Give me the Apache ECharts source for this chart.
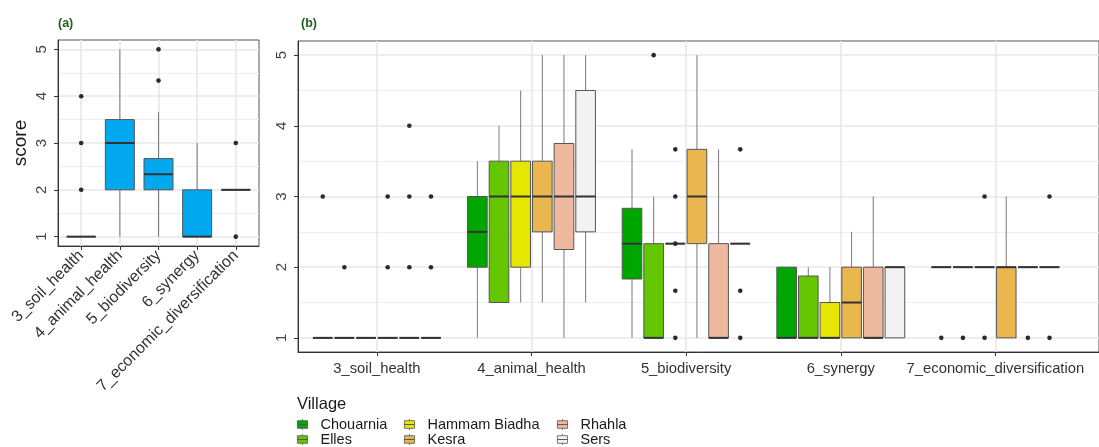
<!DOCTYPE html>
<html><head><meta charset="utf-8">
<script src="https://cdn.jsdelivr.net/npm/echarts@6/dist/echarts.min.js"></script>
<style>html,body{margin:0;padding:0;background:#fff}#c{width:1099px;height:447px}</style>
</head><body><div id="c"></div>
<script>
// ---------- data ----------
const categories = ['3_soil_health', '4_animal_health', '5_biodiversity', '6_synergy', '7_economic_diversification'];
const villages = ['Chouarnia', 'Elles', 'Hammam Biadha', 'Kesra', 'Rhahla', 'Sers'];
const yTicks = [1, 2, 3, 4, 5];
const yMinor = [1.5, 2.5, 3.5, 4.5];

// box stats per category: [lower whisker, Q1, median, Q3, upper whisker]
const overallBoxes = [
  [1, 1, 1, 1, 1],
  [1, 2, 3, 3.5, 5],
  [1, 2, 2.333, 2.667, 3.667],
  [1, 1, 1, 2, 3],
  [2, 2, 2, 2, 2]
];
const overallOutliers = [
  ['3_soil_health', 4], ['3_soil_health', 3], ['3_soil_health', 2],
  ['5_biodiversity', 5], ['5_biodiversity', 4.333],
  ['7_economic_diversification', 3], ['7_economic_diversification', 1]
];

const chouarniaBoxes = [[1, 1, 1, 1, 1], [1, 2, 2.5, 3, 3.5], [1, 1.833, 2.333, 2.833, 3.667], [1, 1, 1, 2, 2], [2, 2, 2, 2, 2]];
const chouarniaOutliers = [['3_soil_health', 3], ['7_economic_diversification', 1]];

const ellesBoxes = [[1, 1, 1, 1, 1], [1.5, 1.5, 3, 3.5, 4], [1, 1, 1, 2.333, 3], [1, 1, 1, 1.875, 2], [2, 2, 2, 2, 2]];
const ellesOutliers = [['3_soil_health', 2], ['5_biodiversity', 5], ['7_economic_diversification', 1]];

const hammamBoxes = [[1, 1, 1, 1, 1], [1.5, 2, 3, 3.5, 4.5], [2.333, 2.333, 2.333, 2.333, 2.333], [1, 1, 1, 1.5, 2], [2, 2, 2, 2, 2]];
const hammamOutliers = [
  ['5_biodiversity', 3.667], ['5_biodiversity', 3], ['5_biodiversity', 2.333], ['5_biodiversity', 1.667], ['5_biodiversity', 1],
  ['7_economic_diversification', 3], ['7_economic_diversification', 1]
];

const kesraBoxes = [[1, 1, 1, 1, 1], [1.5, 2.5, 3, 3.5, 5], [1, 2.333, 3, 3.667, 5], [1, 1, 1.5, 2, 2.5], [1, 1, 2, 2, 3]];
const kesraOutliers = [['3_soil_health', 3], ['3_soil_health', 2]];

const rhahlaBoxes = [[1, 1, 1, 1, 1], [1, 2.25, 3, 3.75, 5], [1, 1, 1, 2.333, 3.667], [1, 1, 1, 2, 3], [2, 2, 2, 2, 2]];
const rhahlaOutliers = [['3_soil_health', 4], ['3_soil_health', 3], ['3_soil_health', 2], ['7_economic_diversification', 1]];

const sersBoxes = [[1, 1, 1, 1, 1], [1.5, 2.5, 3, 4.5, 5], [2.333, 2.333, 2.333, 2.333, 2.333], [1, 1, 2, 2, 2], [2, 2, 2, 2, 2]];
const sersOutliers = [
  ['3_soil_health', 3], ['3_soil_health', 2],
  ['5_biodiversity', 3.667], ['5_biodiversity', 1.667], ['5_biodiversity', 1],
  ['7_economic_diversification', 3], ['7_economic_diversification', 1]
];

// ---------- styling ----------
const villageBoxes = [chouarniaBoxes, ellesBoxes, hammamBoxes, kesraBoxes, rhahlaBoxes, sersBoxes];
const villageOutliers = [chouarniaOutliers, ellesOutliers, hammamOutliers, kesraOutliers, rhahlaOutliers, sersOutliers];
const villageColors = ['#00A600', '#63C600', '#E6E600', '#EAB64E', '#EEB99F', '#F2F2F2'];
const overallColor = '#03A9EE';
const FONT = '"Liberation Sans", Arial, Helvetica, sans-serif';
const PITCH = 0.14, BOXW = 0.127;

function boxData(boxes) { return boxes.map((b, i) => [i + 1].concat(b)); }
function ptData(list) { return list.map(p => [categories.indexOf(p[0]) + 1, p[1]]); }

function boxRender(offset, halfW, fill) {
  return function (params, api) {
    const x = api.value(0) + offset;
    const lo = api.value(1), q1 = api.value(2), md = api.value(3), q3 = api.value(4), hi = api.value(5);
    const tl = api.coord([x - halfW, q3]);
    const br = api.coord([x + halfW, q1]);
    const m1 = api.coord([x - halfW, md]), m2 = api.coord([x + halfW, md]);
    const c = v => api.coord([x, v]);
    const kids = [];
    if (hi > q3) { const a = c(hi), b = c(q3); kids.push({ type: 'line', shape: { x1: a[0], y1: a[1], x2: b[0], y2: b[1] }, style: { stroke: '#7a7a7a', lineWidth: 1 } }); }
    if (lo < q1) { const a = c(q1), b = c(lo); kids.push({ type: 'line', shape: { x1: a[0], y1: a[1], x2: b[0], y2: b[1] }, style: { stroke: '#7a7a7a', lineWidth: 1 } }); }
    kids.push({ type: 'rect', shape: { x: tl[0], y: tl[1], width: br[0] - tl[0], height: br[1] - tl[1] }, style: { fill: fill, stroke: '#555', lineWidth: 1 } });
    kids.push({ type: 'line', shape: { x1: m1[0], y1: m1[1], x2: m2[0], y2: m2[1] }, style: { stroke: '#333', lineWidth: 2 } });
    return { type: 'group', children: kids };
  };
}
function pointRender(offset) {
  return function (params, api) {
    const p = api.coord([api.value(0) + offset, api.value(1)]);
    return { type: 'circle', shape: { cx: p[0], cy: p[1], r: 2.3 }, style: { fill: '#2a2a2a' } };
  };
}
function gridSeries(idx) {
  return {
    type: 'line', xAxisIndex: idx, yAxisIndex: idx, data: [], silent: true, z: 0,
    markLine: {
      silent: true, symbol: 'none', animation: false, z: 0,
      label: { show: false },
      lineStyle: { color: '#e8e8e8', width: 1.6, type: 'solid' },
      emphasis: { disabled: true },
      data: yTicks.map(v => ({ yAxis: v }))
        .concat(yMinor.map(v => ({ yAxis: v, lineStyle: { color: '#eeeeee', width: 1, type: 'solid' } })))
        .concat(categories.map((c, i) => ({ xAxis: i + 1 })))
    }
  };
}

function yAxisCfg(idx, withName) {
  const cfg = {
    type: 'value', gridIndex: idx, min: 0.8, max: 5.2,
    axisLine: { show: true, lineStyle: { color: '#333', width: 1 } },
    axisTick: { show: true, customValues: yTicks, length: 4, lineStyle: { color: '#333' } },
    axisLabel: { customValues: yTicks, rotate: 90, margin: 9, fontSize: 15, color: '#444', fontFamily: FONT },
    splitLine: { show: false }
  };
  if (withName) {
    cfg.name = 'score'; cfg.nameLocation = 'middle'; cfg.nameGap = 28;
    cfg.nameTextStyle = { fontSize: 19, color: '#1a1a1a', fontFamily: FONT };
  }
  return cfg;
}
function xAxisCfg(idx, min, max, rotate, fontSize, margin) {
  return {
    type: 'value', gridIndex: idx, min: min, max: max,
    axisLine: { show: true, onZero: false, lineStyle: { color: '#333', width: 1 } },
    axisTick: { show: true, customValues: yTicks, length: 4, lineStyle: { color: '#333' } },
    axisLabel: {
      customValues: yTicks, rotate: rotate, margin: margin, fontSize: fontSize, color: '#333', fontFamily: FONT,
      formatter: v => categories[Math.round(v) - 1]
    },
    splitLine: { show: false }
  };
}

const series = [gridSeries(0), gridSeries(1)];
series.push({
  type: 'custom', name: 'overall', xAxisIndex: 0, yAxisIndex: 0, z: 3,
  encode: { x: 0, y: [1, 2, 3, 4, 5] },
  renderItem: boxRender(0, 0.375, overallColor), data: boxData(overallBoxes)
});
series.push({
  type: 'custom', name: 'overall outliers', xAxisIndex: 0, yAxisIndex: 0, z: 4,
  encode: { x: 0, y: 1 }, renderItem: pointRender(0), data: ptData(overallOutliers)
});
villages.forEach((v, i) => {
  const off = (i - 2.5) * PITCH;
  series.push({
    type: 'custom', name: v, xAxisIndex: 1, yAxisIndex: 1, z: 3,
    itemStyle: { color: villageColors[i] },
    encode: { x: 0, y: [1, 2, 3, 4, 5] },
    renderItem: boxRender(off, BOXW / 2, villageColors[i]), data: boxData(villageBoxes[i])
  });
});
villages.forEach((v, i) => {
  const off = (i - 2.5) * PITCH;
  series.push({
    type: 'custom', name: v + ' outliers', xAxisIndex: 1, yAxisIndex: 1, z: 4,
    encode: { x: 0, y: 1 }, renderItem: pointRender(off), data: ptData(villageOutliers[i])
  });
});

const legendLefts = [297, 404, 557];
const legendIcon = 'path://M0,2H12V6.5H0Z M0,6.5H12V11H0Z M6,0V2 M6,11V13';
const legends = [0, 1, 2].map(col => ({
  orient: 'vertical', left: legendLefts[col], top: 417, padding: 0, itemGap: 0,
  itemWidth: 12, itemHeight: 11, icon: legendIcon, selectedMode: false,
  itemStyle: { borderColor: '#555', borderWidth: 0.8 },
  textStyle: { fontSize: 14.5, color: '#1a1a1a', fontFamily: FONT, lineHeight: 15, padding: [0, 0, 0, 7] },
  data: villages.slice(col * 2, col * 2 + 2)
}));

const option = {
  animation: false,
  backgroundColor: '#ffffff',
  title: [
    { text: '(a)', left: 58, top: 17, padding: 0, textStyle: { fontSize: 12.5, fontWeight: 'bold', color: '#1f5f1f', fontFamily: FONT } },
    { text: '(b)', left: 301, top: 17, padding: 0, textStyle: { fontSize: 12.5, fontWeight: 'bold', color: '#1f5f1f', fontFamily: FONT } },
    { text: 'Village', left: 297, top: 396, padding: 0, textStyle: { fontSize: 16.5, fontWeight: 'normal', color: '#1a1a1a', fontFamily: FONT } }
  ],
  legend: legends,
  grid: [
    { left: 58, top: 40, width: 201, height: 206, show: true, borderColor: '#555', borderWidth: 1, backgroundColor: 'transparent' },
    { left: 298, top: 41, width: 803, height: 311, show: true, borderColor: '#555', borderWidth: 1, backgroundColor: 'transparent' }
  ],
  xAxis: [xAxisCfg(0, 0.4, 5.6, 45, 16, 7), xAxisCfg(1, 0.49, 5.67, 0, 14.8, 9)],
  yAxis: [yAxisCfg(0, true), yAxisCfg(1, false)],
  series: series
};
const chart = echarts.init(document.getElementById('c'), null, { renderer: 'canvas' });
chart.setOption(option);
</script></body></html>
